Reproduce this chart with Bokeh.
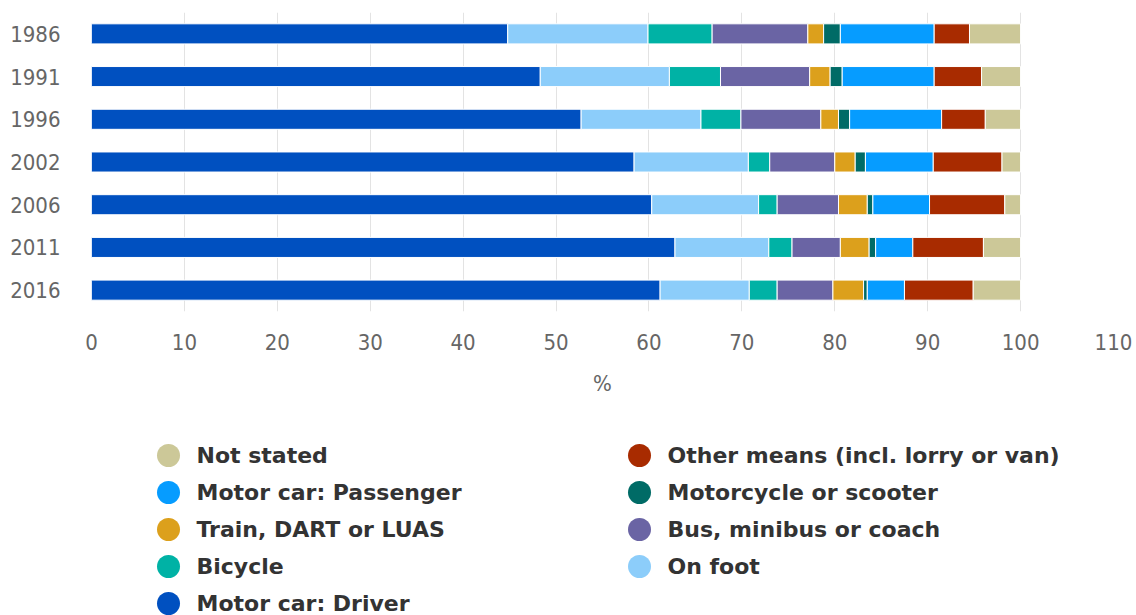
from bokeh.plotting import figure
from bokeh.layouts import column
from bokeh.models import ColumnDataSource, Range1d, FactorRange
from bokeh.core.properties import value
from bokeh.embed import file_html
from bokeh.resources import INLINE

# Means of travel to work, share of commuters (%) by census year
years = ["1986", "1991", "1996", "2002", "2006", "2011", "2016"]

car_driver = [44.8, 48.3, 52.7, 58.4, 60.3, 62.8, 61.2]
on_foot = [15.1, 13.9, 12.9, 12.3, 11.5, 10.1, 9.6]
bicycle = [6.9, 5.5, 4.3, 2.3, 2.0, 2.5, 3.0]
bus = [10.3, 9.6, 8.6, 7.0, 6.6, 5.2, 6.0]
train = [1.7, 2.2, 1.9, 2.2, 3.1, 3.1, 3.3]
motorcycle = [1.8, 1.3, 1.2, 1.1, 0.6, 0.7, 0.4]
car_passenger = [10.1, 9.9, 9.9, 7.3, 6.1, 4.0, 4.0]
other_means = [3.8, 5.1, 4.7, 7.4, 8.1, 7.6, 7.4]
not_stated = [5.5, 4.2, 3.8, 2.0, 1.7, 4.0, 5.1]

series_names = [
    "Motor car: Driver",
    "On foot",
    "Bicycle",
    "Bus, minibus or coach",
    "Train, DART or LUAS",
    "Motorcycle or scooter",
    "Motor car: Passenger",
    "Other means (incl. lorry or van)",
    "Not stated",
]
series_values = [car_driver, on_foot, bicycle, bus, train, motorcycle,
                 car_passenger, other_means, not_stated]
series_colors = ["#0050c0", "#8ccdfa", "#00b2a5", "#6a64a4", "#dca01c",
                 "#006b66", "#069cff", "#a82b00", "#ccc898"]

x_ticks = list(range(0, 111, 10))

W = 1136
CHART_H = 410
LEGEND_H = 205
BORDER_L, BORDER_R = 91, 23

TICK_FONT = "DejaVu Sans Condensed, DejaVu Sans, sans-serif"

keys = [f"s{i}" for i in range(len(series_names))]
data = {"year": years}
for k, vals in zip(keys, series_values):
    data[k] = vals
source = ColumnDataSource(data)

p = figure(
    width=W, height=CHART_H,
    y_range=FactorRange(*reversed(years)),
    x_range=Range1d(0, 110),
    output_backend="svg", toolbar_location=None,
    min_border_left=BORDER_L, min_border_right=BORDER_R,
    min_border_top=12, min_border_bottom=99,
)
p.hbar_stack(keys, y="year", height=0.47, color=series_colors,
             line_color="white", line_width=1, source=source)

p.outline_line_color = None
p.background_fill_color = "white"
p.border_fill_color = "white"
p.ygrid.grid_line_color = None
p.xgrid.grid_line_color = "#e3e3e3"
p.xgrid.grid_line_width = 1

p.xaxis.ticker = x_ticks
p.xaxis.axis_line_color = None
p.xaxis.major_tick_line_color = None
p.xaxis.minor_tick_line_color = None
p.xaxis.major_label_standoff = 16
p.xaxis.major_label_text_font = TICK_FONT
p.xaxis.major_label_text_font_size = "22px"
p.xaxis.major_label_text_color = "#666666"
p.xaxis.axis_label = "%"
p.xaxis.axis_label_standoff = 18
p.xaxis.axis_label_text_font = TICK_FONT
p.xaxis.axis_label_text_font_size = "22px"
p.xaxis.axis_label_text_font_style = "normal"
p.xaxis.axis_label_text_color = "#666666"

p.yaxis.axis_line_color = None
p.yaxis.major_tick_line_color = None
p.yaxis.minor_tick_line_color = None
p.yaxis.major_label_standoff = 25
p.yaxis.major_label_text_font = TICK_FONT
p.yaxis.major_label_text_font_size = "22px"
p.yaxis.major_label_text_color = "#666666"

# Legend: series in reverse order, two per row; x/y in page pixels
leg = figure(
    width=W, height=LEGEND_H,
    x_range=Range1d(BORDER_L, W - BORDER_R), y_range=Range1d(LEGEND_H, 0),
    output_backend="svg", toolbar_location=None,
    min_border_left=BORDER_L, min_border_right=BORDER_R,
    min_border_top=0, min_border_bottom=0,
)
leg.outline_line_color = None
leg.axis.visible = False
leg.grid.visible = False

order = list(range(len(series_names)))[::-1]
col_x = [168, 639]
row_y0, row_dy = 45, 37
lx, ly, lname, lcolor = [], [], [], []
for n, idx in enumerate(order):
    c, r = n % 2, n // 2
    lx.append(col_x[c])
    ly.append(row_y0 + r * row_dy)
    lname.append(series_names[idx])
    lcolor.append(series_colors[idx])
lsrc = ColumnDataSource(dict(x=lx, y=ly, tx=[x + 28 for x in lx],
                             name=lname, color=lcolor))
leg.scatter("x", "y", size=23, color="color", line_color=None, source=lsrc)
leg.text("tx", "y", text="name", source=lsrc,
         text_baseline="middle", text_align="left",
         text_font=value("DejaVu Sans"), text_font_style="bold",
         text_font_size="22px", text_color="#333333")

layout = column(p, leg, spacing=0)

open("out.html", "w").write(file_html(layout, INLINE))
